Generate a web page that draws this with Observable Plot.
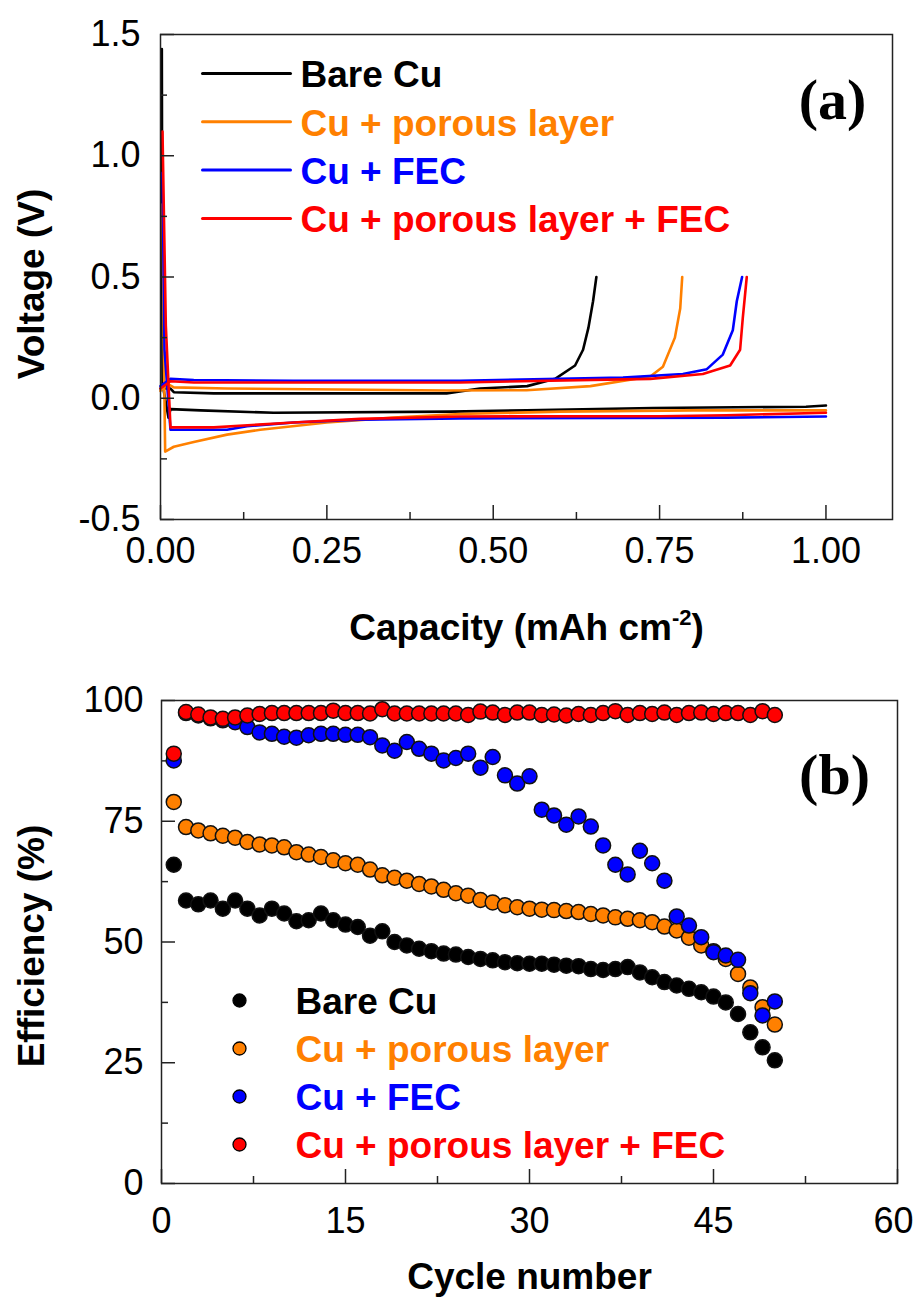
<!DOCTYPE html>
<html><head><meta charset="utf-8">
<script src="https://cdn.jsdelivr.net/npm/d3@7"></script>
<script src="https://cdn.jsdelivr.net/npm/@observablehq/plot@0.6"></script>
<style>
body{margin:0;background:#fff;}
#chart{width:914px;}
svg{display:block;}
</style></head><body><div id="chart"></div>
<script>
// ---------- DATA ----------
const seriesNames = ["Bare Cu", "Cu + porous layer", "Cu + FEC", "Cu + porous layer + FEC"];
const seriesColors = ["#000000", "#ff8000", "#0000ff", "#ff0000"];

// Panel (a): voltage profiles, [capacity mAh cm-2, voltage V]
const bareCuDischarge = [[0.002,1.44],[0.003,0.06],[0.012,-0.08],[0.015,-0.045],[0.06,-0.05],[0.17,-0.06],[0.435,-0.055],[0.55,-0.05],[0.74,-0.04],[0.97,-0.035],[1.0,-0.03]];
const bareCuCharge = [[0.0,0.04],[0.015,0.04],[0.02,0.025],[0.08,0.02],[0.43,0.02],[0.48,0.04],[0.551,0.05],[0.593,0.08],[0.623,0.135],[0.635,0.2],[0.643,0.29],[0.65,0.4],[0.655,0.5]];
const porousDischarge = [[0.003,0.8],[0.005,0.2],[0.007,-0.22],[0.02,-0.2],[0.05,-0.18],[0.1,-0.15],[0.15,-0.13],[0.25,-0.1],[0.35,-0.08],[0.45,-0.065],[0.6,-0.055],[0.8,-0.05],[1.0,-0.05]];
const porousCharge = [[0.0,0.03],[0.01,0.06],[0.02,0.045],[0.1,0.04],[0.43,0.032],[0.55,0.033],[0.646,0.05],[0.736,0.09],[0.755,0.13],[0.773,0.25],[0.781,0.37],[0.784,0.5]];
const fecDischarge = [[0.003,0.93],[0.006,0.2],[0.015,-0.13],[0.1,-0.13],[0.13,-0.115],[0.2,-0.1],[0.3,-0.088],[0.45,-0.083],[0.85,-0.08],[1.0,-0.075]];
const fecCharge = [[0.0,0.05],[0.015,0.08],[0.05,0.075],[0.2,0.072],[0.45,0.072],[0.695,0.085],[0.785,0.1],[0.821,0.12],[0.845,0.18],[0.86,0.28],[0.866,0.4],[0.874,0.5]];
const porousFecDischarge = [[0.003,1.1],[0.008,0.3],[0.015,-0.12],[0.08,-0.12],[0.2,-0.1],[0.3,-0.085],[0.45,-0.075],[0.75,-0.074],[0.85,-0.07],[1.0,-0.06]];
const porousFecCharge = [[0.0,0.04],[0.015,0.07],[0.05,0.065],[0.45,0.065],[0.736,0.08],[0.815,0.1],[0.856,0.135],[0.871,0.2],[0.875,0.33],[0.881,0.5]];

// Panel (b): coulombic efficiency (%) vs cycle number
const cycles = [1,2,3,4,5,6,7,8,9,10,11,12,13,14,15,16,17,18,19,20,21,22,23,24,25,26,27,28,29,30,31,32,33,34,35,36,37,38,39,40,41,42,43,44,45,46,47,48,49,50];
const bareCuEff = [66.0,58.6,57.8,58.6,56.9,58.6,56.9,55.5,56.9,55.9,54.3,54.5,55.9,54.5,53.6,53.1,51.3,52.2,50.0,49.3,48.6,48.1,47.6,47.4,46.9,46.5,46.2,45.8,45.6,45.5,45.5,45.3,45.1,45.0,44.4,44.2,44.4,44.8,43.7,42.7,41.7,41.0,40.3,39.6,38.7,37.5,35.1,31.3,28.2,25.5];
const porousEff = [79.0,73.8,73.1,72.5,72.0,71.6,70.7,70.2,70.0,69.6,68.6,68.1,67.6,66.9,66.3,66.0,65.0,63.8,63.3,62.7,62.0,61.5,60.8,60.1,59.6,58.7,58.2,57.6,57.2,56.9,56.7,56.6,56.4,56.2,55.8,55.5,55.1,54.8,54.5,54.1,53.2,52.4,50.9,49.3,48.1,46.5,43.4,40.6,36.5,32.9];
const fecEff = [87.6,97.4,96.9,96.3,95.9,95.5,94.5,93.4,93.1,92.5,92.3,92.8,93.1,93.1,92.9,92.9,92.4,90.7,89.6,91.4,90.0,89.0,87.6,88.1,89.0,86.1,88.3,84.5,82.8,84.3,77.4,76.2,74.3,76.0,73.9,70.0,66.0,64.0,68.9,66.3,62.7,55.3,53.4,51.0,47.9,47.2,46.3,39.4,34.8,37.7];
const porousFecEff = [89.0,97.6,97.1,96.5,96.2,96.5,96.9,97.2,97.4,97.4,97.4,97.4,97.4,97.9,97.4,97.4,97.3,98.2,97.3,97.3,97.3,97.3,97.3,97.3,97.0,97.7,97.5,97.0,97.5,97.5,97.0,97.1,96.9,97.2,97.0,97.4,97.8,97.0,97.4,97.2,97.5,97.0,97.4,97.5,97.2,97.4,97.4,97.0,97.8,97.0];

// Tick values
const aXTicks = [0, 0.25, 0.5, 0.75, 1.0];
const aXMinor = [0.125, 0.375, 0.625, 0.875];
const aYTicks = [-0.5, 0, 0.5, 1.0, 1.5];
const aYMinor = [-0.25, 0.25, 0.75, 1.25];
const bXTicks = [0, 15, 30, 45];
const bXLastTick = [60];
const bXMinor = [7.5, 22.5, 37.5, 52.5];
const bYTicks = [0, 25, 50, 75, 100];
const bYMinor = [12.5, 37.5, 62.5, 87.5];

// ---------- BUILD ----------
const FONT = "'Liberation Sans', Arial, Helvetica, sans-serif";
const SERIF = "'Liberation Serif', 'Times New Roman', serif";
const W = 914;
const frameColor = "#222";
const TICKFS = 36, TITLEFS = 37, LEGFS = 37;

const dischargeCurves = [bareCuDischarge, porousDischarge, fecDischarge, porousFecDischarge];
const chargeCurves = [bareCuCharge, porousCharge, fecCharge, porousFecCharge];
const profileRows = [];
seriesNames.forEach((s, i) => {
  dischargeCurves[i].forEach(([c, v]) => profileRows.push({series: s, seg: s + "|d", cap: c, v}));
  chargeCurves[i].forEach(([c, v]) => profileRows.push({series: s, seg: s + "|c", cap: c, v}));
});

const effSeries = [bareCuEff, porousEff, fecEff, porousFecEff];
const effRows = [];
seriesNames.forEach((s, i) => cycles.forEach((c, j) => effRows.push({series: s, cycle: c, eff: effSeries[i][j]})));

const lineShape = {draw(ctx, l) { ctx.moveTo(0, 0); ctx.lineTo(0, -l); }};

function inwardTicks(majX, minX, majY, minY, fw, fh) {
  const o = {stroke: frameColor, strokeWidth: 1.5};
  return [
    Plot.tickX(majX, {x: d => d, insetTop: fh - 14, ...o}),
    Plot.tickX(minX, {x: d => d, insetTop: fh - 7, ...o}),
    Plot.tickY(majY, {y: d => d, insetRight: fw - 14, ...o}),
    Plot.tickY(minY, {y: d => d, insetRight: fw - 7, ...o})
  ];
}

// Panel (a)
const aH = 655, aM = {top: 34, bottom: 136, left: 160, right: 22};
const aFW = W - aM.left - aM.right, aFH = aH - aM.top - aM.bottom;
const aLegend = [];
seriesNames.forEach((s, i) => {
  const dy = 39 + i * 48.3;
  aLegend.push(Plot.vector([s], {frameAnchor: "top-left", dx: 42, dy, rotate: 90, length: 88, anchor: "start", shape: lineShape, stroke: seriesColors[i], strokeWidth: 3}));
  aLegend.push(Plot.text([s], {frameAnchor: "top-left", dx: 140, dy: dy + 2, text: d => d, textAnchor: "start", lineAnchor: "middle", fill: seriesColors[i], fontSize: LEGFS, fontWeight: "bold", fontFamily: FONT}));
});

const plotA = Plot.plot({
  width: W, height: aH,
  marginTop: aM.top, marginBottom: aM.bottom, marginLeft: aM.left, marginRight: aM.right,
  style: {fontFamily: FONT, color: "black", background: "white", overflow: "visible"},
  x: {domain: [0, 1.1]},
  y: {domain: [-0.5, 1.5]},
  color: {domain: seriesNames, range: seriesColors},
  marks: [
    Plot.line(profileRows, {x: "cap", y: "v", z: "seg", stroke: "series", strokeWidth: 2.6, strokeLinejoin: "round"}),
    Plot.frame({stroke: frameColor, strokeWidth: 1.5}),
    ...inwardTicks(aXTicks, aXMinor, aYTicks, aYMinor, aFW, aFH),
    Plot.axisX({ticks: aXTicks, tickSize: 0, tickPadding: 18, tickFormat: d => d.toFixed(2), fontSize: TICKFS, label: null, fill: "black"}),
    Plot.axisY({ticks: aYTicks, tickSize: 0, tickPadding: 20, tickFormat: d => d.toFixed(1), fontSize: TICKFS, label: null, fill: "black"}),
    Plot.text(["Voltage (V)"], {frameAnchor: "left", dx: -128, dy: 7, rotate: -90, text: d => d, fontSize: TITLEFS, fontWeight: "bold", textAnchor: "middle", lineAnchor: "middle"}),
    Plot.text(["Capacity (mAh cm"], {frameAnchor: "bottom", dy: 109, text: d => d, fontSize: TITLEFS, fontWeight: "bold", textAnchor: "middle", lineAnchor: "middle"}),
    Plot.text(["(a)"], {frameAnchor: "top-right", dx: -60, dy: 66, text: d => d, fontSize: 58, fontWeight: "bold", fontFamily: SERIF, textAnchor: "middle", lineAnchor: "middle"}),
    ...aLegend
  ]
});

// Panel (b)
const bH = 652, bM = {top: 45, bottom: 124, left: 161, right: 17};
const bFW = W - bM.left - bM.right, bFH = bH - bM.top - bM.bottom;
const bLegend = [];
seriesNames.forEach((s, i) => {
  const dy = 300 + i * 48;
  bLegend.push(Plot.dot([s], {frameAnchor: "top-left", dx: 78, dy, r: 6.5, fill: seriesColors[i], stroke: "black", strokeWidth: 1.3}));
  bLegend.push(Plot.text([s], {frameAnchor: "top-left", dx: 134, dy: dy + 2, text: d => d, textAnchor: "start", lineAnchor: "middle", fill: seriesColors[i], fontSize: LEGFS, fontWeight: "bold", fontFamily: FONT}));
});

const plotB = Plot.plot({
  width: W, height: bH,
  marginTop: bM.top, marginBottom: bM.bottom, marginLeft: bM.left, marginRight: bM.right,
  style: {fontFamily: FONT, color: "black", background: "white", overflow: "visible"},
  x: {domain: [0, 60]},
  y: {domain: [0, 100]},
  color: {domain: seriesNames, range: seriesColors},
  marks: [
    Plot.frame({stroke: frameColor, strokeWidth: 1.5}),
    ...inwardTicks([...bXTicks, ...bXLastTick], bXMinor, bYTicks, bYMinor, bFW, bFH),
    Plot.dot(effRows, {x: "cycle", y: "eff", fill: "series", stroke: "#111", strokeWidth: 1.5, r: 7.5}),
    Plot.axisX({ticks: bXTicks, tickSize: 0, tickPadding: 24, tickFormat: d => String(d), fontSize: TICKFS, label: null, fill: "black"}),
    Plot.axisX({ticks: bXLastTick, tickSize: 0, tickPadding: 24, dx: -4, tickFormat: d => String(d), fontSize: TICKFS, label: null, fill: "black"}),
    Plot.axisY({ticks: bYTicks, tickSize: 0, tickPadding: 18, tickFormat: d => String(d), fontSize: TICKFS, label: null, fill: "black"}),
    Plot.text(["Efficiency (%)"], {frameAnchor: "left", dx: -129, dy: 4, rotate: -90, text: d => d, fontSize: TITLEFS, fontWeight: "bold", textAnchor: "middle", lineAnchor: "middle"}),
    Plot.text(["Cycle number"], {frameAnchor: "bottom", dy: 94, text: d => d, fontSize: TITLEFS, fontWeight: "bold", textAnchor: "middle", lineAnchor: "middle"}),
    Plot.text(["(b)"], {frameAnchor: "top-right", dx: -63, dy: 75, text: d => d, fontSize: 58, fontWeight: "bold", fontFamily: SERIF, textAnchor: "middle", lineAnchor: "middle"}),
    ...bLegend
  ]
});

const chart = document.getElementById("chart");
chart.appendChild(plotA);
chart.appendChild(plotB);

// superscript on capacity unit
d3.select(plotA).selectAll("text").filter(function() { return this.textContent === "Capacity (mAh cm"; })
  .each(function() {
    const t = d3.select(this);
    t.append("tspan").attr("dy", "-15").attr("font-size", 22).text("-2");
    t.append("tspan").attr("dy", "15").text(")");
  });
</script></body></html>
